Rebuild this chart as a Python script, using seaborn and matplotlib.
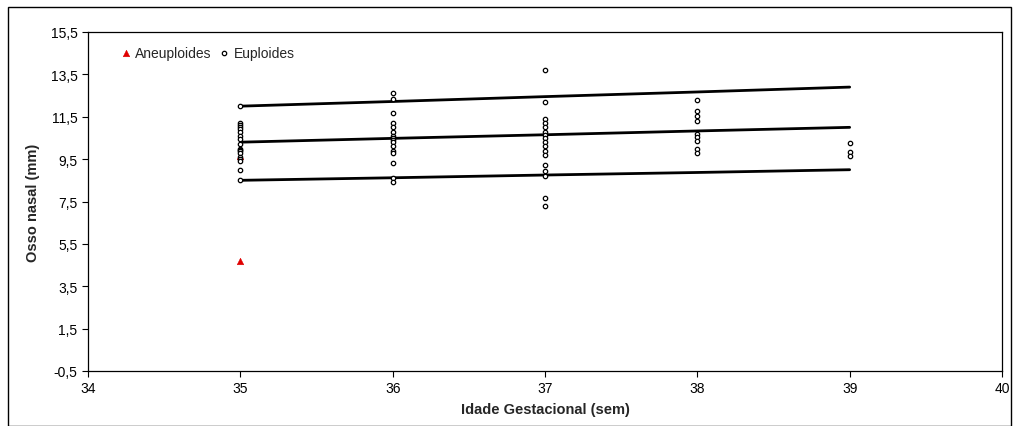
import matplotlib
matplotlib.use("Agg")
import matplotlib.pyplot as plt
import numpy as np
import pandas as pd
import seaborn as sns
from matplotlib.patches import Rectangle

sns.set_theme(style="white")
plt.rcParams["font.family"] = ["Liberation Sans", "DejaVu Sans"]

# euploid measurements per gestational week
eu_35 = [12.0, 11.2, 11.1, 11.0, 10.9, 10.8, 10.6, 10.45, 10.2, 10.0, 9.95, 9.9, 9.8, 9.6, 9.5, 9.4, 9.0, 8.5]
eu_36 = [12.6, 12.35, 11.7, 11.2, 11.0, 10.8, 10.6, 10.5, 10.4, 10.3, 10.1, 9.9, 9.8, 9.3, 8.6, 8.4]
eu_37 = [13.7, 12.2, 11.4, 11.2, 11.0, 10.8, 10.65, 10.5, 10.3, 10.1, 9.9, 9.7, 9.2, 8.95, 8.7, 7.65, 7.3]
eu_38 = [12.3, 11.75, 11.55, 11.3, 10.7, 10.55, 10.35, 10.0, 9.8]
eu_39 = [10.25, 9.85, 9.65]

aneu_weeks = [35, 35]
aneu_values = [9.65, 4.7]

# reference curves
line_weeks = [35, 36, 37, 38, 39]
upper_line = [12.0, 12.22, 12.45, 12.67, 12.9]
mid_line = [10.3, 10.48, 10.65, 10.83, 11.0]
lower_line = [8.5, 8.62, 8.75, 8.87, 9.0]

y_ticks = np.arange(-0.5, 16.0, 2.0)
x_ticks = [34, 35, 36, 37, 38, 39, 40]

eu_weeks = [35] * len(eu_35) + [36] * len(eu_36) + [37] * len(eu_37) + [38] * len(eu_38) + [39] * len(eu_39)
eu = pd.DataFrame({"week": eu_weeks, "value": eu_35 + eu_36 + eu_37 + eu_38 + eu_39})
aneu = pd.DataFrame({"week": aneu_weeks, "value": aneu_values})
lines = pd.DataFrame({
    "week": line_weeks * 3,
    "value": upper_line + mid_line + lower_line,
    "curve": ["upper"] * 5 + ["mid"] * 5 + ["lower"] * 5,
})

fig = plt.figure(figsize=(10.13, 4.27), dpi=100)
ax = fig.add_axes([88 / 1013, 1 - 372 / 427, (1002 - 88) / 1013, (372 - 33) / 427])

sns.lineplot(data=lines, x="week", y="value", units="curve", estimator=None,
             color="black", linewidth=2.0, ax=ax, zorder=2)
sns.scatterplot(data=aneu, x="week", y="value", marker="^", color="#e00000",
                edgecolor="#e00000", s=22, ax=ax, zorder=3, label="Aneuploides")
sns.scatterplot(data=eu, x="week", y="value", marker="o", facecolor="white",
                edgecolor="black", linewidth=0.9, s=10, ax=ax, zorder=4, label="Euploides")

ax.set_xlim(34, 40)
ax.set_ylim(-0.5, 15.5)
ax.set_xticks(x_ticks)
ax.set_yticks(y_ticks)
ax.set_yticklabels([f"{v:.1f}".replace(".", ",") for v in y_ticks])
ax.tick_params(axis="both", labelsize=10, direction="out", length=4, width=0.8,
               colors="black", left=True, bottom=True)
ax.set_xlabel("Idade Gestacional (sem)", fontsize=10.5, fontweight="bold", labelpad=5)
ax.set_ylabel("Osso nasal (mm)", fontsize=10.5, fontweight="bold", labelpad=8)
for side in ax.spines.values():
    side.set_color("black")
    side.set_linewidth(0.9)
ax.grid(False)

ax.legend(loc="upper left", bbox_to_anchor=(0.029, 0.975), ncol=2, frameon=False,
          fontsize=10, handletextpad=0.3, columnspacing=0.5, handlelength=0.8,
          borderaxespad=0)

fig.patches.append(Rectangle((8 / 1013, 0), 1 - 10 / 1013, 1 - 8 / 427,
                             transform=fig.transFigure, fill=False,
                             edgecolor="black", linewidth=1.0))

fig.savefig("out.png", dpi=100)
